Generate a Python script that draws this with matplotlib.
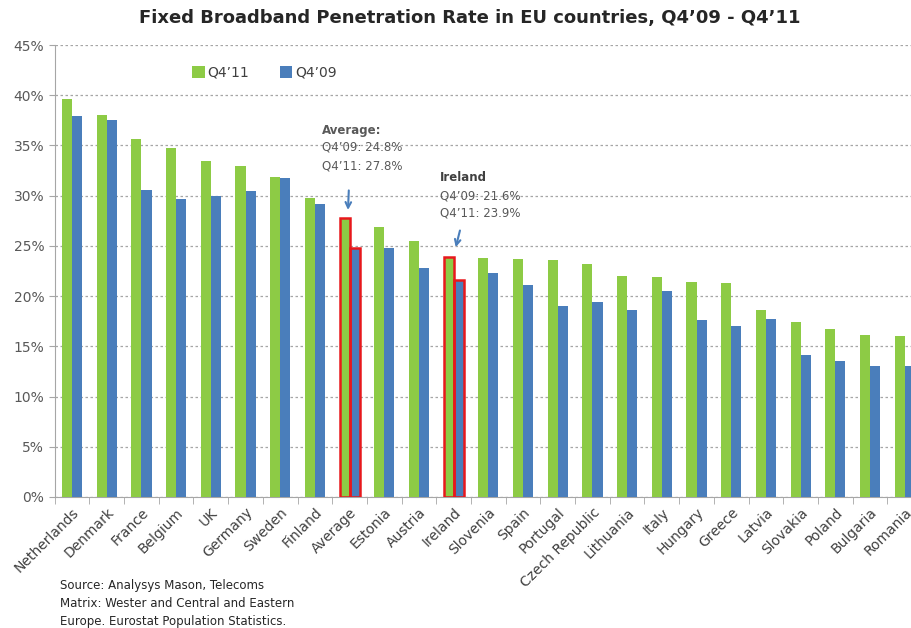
import matplotlib
matplotlib.use("Agg")
import matplotlib.pyplot as plt
import numpy as np

countries = ["Netherlands", "Denmark", "France", "Belgium", "UK", "Germany",
             "Sweden", "Finland", "Average", "Estonia", "Austria", "Ireland",
             "Slovenia", "Spain", "Portugal", "Czech Republic", "Lithuania",
             "Italy", "Hungary", "Greece", "Latvia", "Slovakia", "Poland",
             "Bulgaria", "Romania"]
q4_11 = [39.6, 38.0, 35.6, 34.7, 33.5, 33.0, 31.9, 29.8, 27.8, 26.9, 25.5, 23.9,
         23.8, 23.7, 23.6, 23.2, 22.0, 21.9, 21.4, 21.3, 18.6, 17.4, 16.7, 16.1, 16.0]
q4_09 = [37.9, 37.5, 30.6, 29.7, 30.0, 30.5, 31.8, 29.2, 24.8, 24.8, 22.8, 21.6,
         22.3, 21.1, 19.0, 19.4, 18.6, 20.5, 17.6, 17.0, 17.7, 14.1, 13.5, 13.0, 13.0]
highlight = ["Average", "Ireland"]

green = "#8DCB45"
blue = "#4A7EBB"
grey = "#595959"

fig = plt.figure(figsize=(9.12, 6.28), dpi=100)
ax = fig.add_axes([0.06, 0.2086, 0.951, 0.7197])

x = np.arange(len(countries))
w = 0.29
ax.bar(x - w/2, q4_11, w, color=green, label="Q4\u201911", zorder=3)
ax.bar(x + w/2, q4_09, w, color=blue, label="Q4\u201909", zorder=3)

# red outlines on highlighted bars
for name in highlight:
    i = countries.index(name)
    ax.bar(i - w/2, q4_11[i], w, facecolor="none", edgecolor="#E8181C", linewidth=1.8, zorder=4)
    ax.bar(i + w/2, q4_09[i], w, facecolor="none", edgecolor="#E8181C", linewidth=1.8, zorder=4)

ax.set_xlim(-0.5, len(countries) - 0.5)
ax.set_ylim(0, 45)
ax.set_yticks(np.arange(0, 46, 5))
ax.set_yticklabels([f"{v}%" for v in range(0, 46, 5)], fontsize=10, color=grey)
ax.yaxis.grid(True, linestyle=(0, (2, 2)), color="#A6A6A6", linewidth=0.9, zorder=0)
ax.tick_params(axis="y", length=4, color="#A6A6A6")

ax.set_xticks(x)
ax.set_xticklabels(countries, rotation=45, ha="right", rotation_mode="anchor",
                   fontsize=10, color="#404040")
ax.set_xticks(np.arange(-0.5, len(countries), 1), minor=True)
ax.tick_params(axis="x", which="major", length=0, pad=6)
ax.tick_params(axis="x", which="minor", length=5, color="#A6A6A6")

for s in ["top", "right"]:
    ax.spines[s].set_visible(False)
ax.spines["left"].set_color("#A6A6A6")
ax.spines["bottom"].set_color("#A6A6A6")

fig.legend(loc="center", bbox_to_anchor=(0.29, 0.884), ncol=2, frameon=False,
           fontsize=10, handlelength=0.9, handleheight=0.9, columnspacing=2.2,
           handletextpad=0.2, labelcolor="#404040")

fig.text(0.515, 0.972, "Fixed Broadband Penetration Rate in EU countries, Q4\u201909 - Q4\u201911",
         ha="center", va="center", fontsize=13, fontweight="bold", color="#262626")

# annotations
ax.text(7.2, 36.5, "Average:", fontsize=8.5, fontweight="bold", color=grey, va="center")
ax.text(7.2, 34.8, "Q4\u201909: 24.8%", fontsize=8.5, color=grey, va="center")
ax.text(7.2, 33.0, "Q4\u201911: 27.8%", fontsize=8.5, color=grey, va="center")
ax.annotate("", xy=(7.95, 28.3), xytext=(7.98, 30.8),
            arrowprops=dict(arrowstyle="->", color=blue, lw=1.5))

ax.text(10.6, 31.8, "Ireland", fontsize=8.5, fontweight="bold", color="#404040", va="center")
ax.text(10.6, 30.0, "Q4\u201909: 21.6%", fontsize=8.5, color=grey, va="center")
ax.text(10.6, 28.3, "Q4\u201911: 23.9%", fontsize=8.5, color=grey, va="center")
ax.annotate("", xy=(11.04, 24.6), xytext=(11.2, 26.8),
            arrowprops=dict(arrowstyle="->", color=blue, lw=1.5))

foot = ["Source: Analysys Mason, Telecoms",
        "Matrix: Wester and Central and Eastern",
        "Europe. Eurostat Population Statistics."]
for k, line in enumerate(foot):
    fig.text(0.066, 0.068 - k * 0.029, line, fontsize=8.5, color="#262626",
             va="center", family=["Liberation Sans Narrow", "DejaVu Sans"])

fig.savefig("out.png", dpi=100)
